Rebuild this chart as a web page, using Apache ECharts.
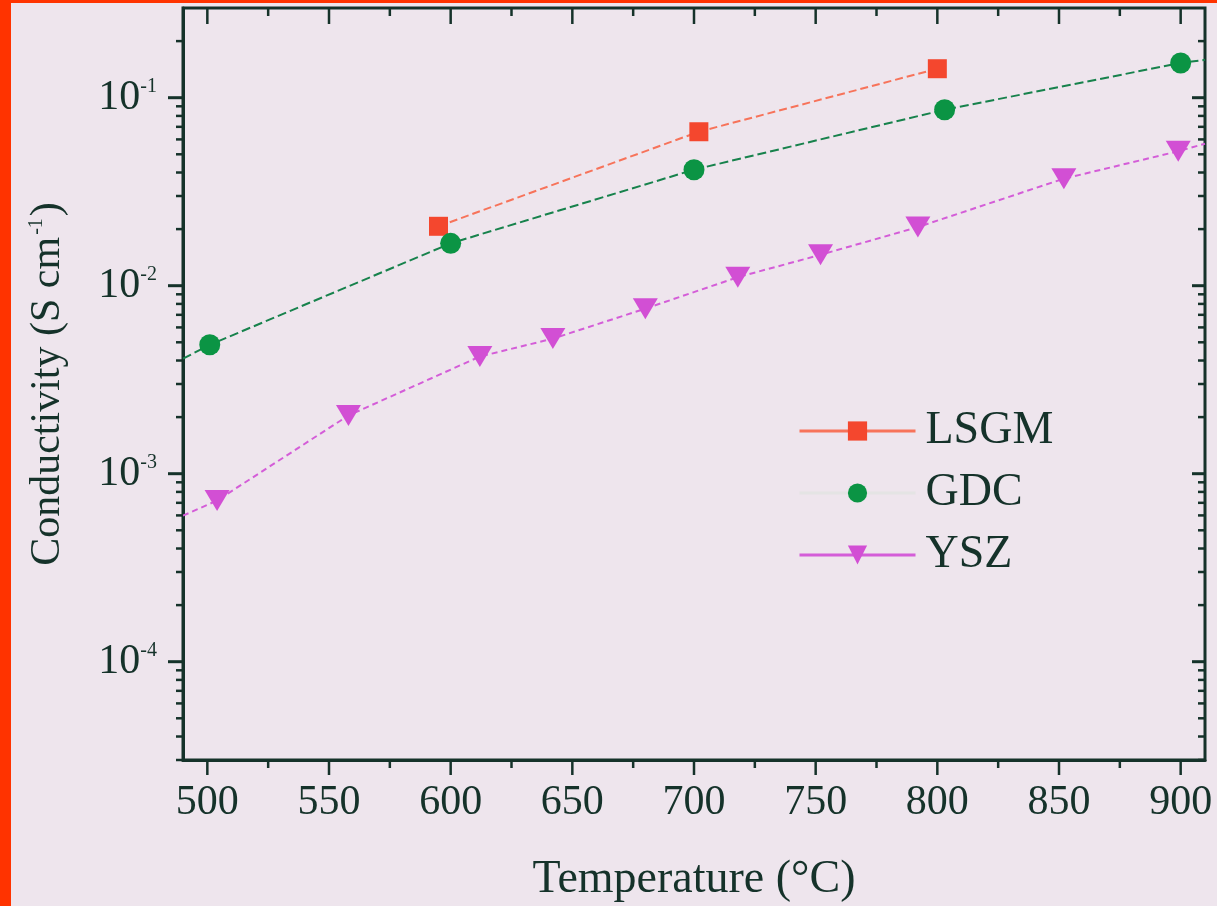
<!DOCTYPE html>
<html>
<head>
<meta charset="utf-8">
<script src="https://cdn.jsdelivr.net/npm/echarts@6/dist/echarts.min.js"></script>
<style>
  html, body { margin: 0; padding: 0; background: #eee5ed; }
  #chart { width: 1217px; height: 906px; }
</style>
</head>
<body>
<div id="chart"></div>
<script>
// data (temperature in °C, conductivity in S/cm)
var lsgmTemp = [595, 702, 800];
var lsgmCond = [0.0207, 0.0659, 0.1426];

var gdcTemp = [501, 600, 700, 803, 900];
var gdcCond = [0.00485, 0.0168, 0.0414, 0.0863, 0.153];
// where the GDC guide line meets the frame
var gdcEnds = [[490, 0.00409], [910, 0.159]];

var yszTemp = [504, 558, 612, 642, 680, 718, 752, 792, 852, 899];
var yszCond = [0.00072, 0.00204, 0.0042, 0.00523, 0.00755, 0.0111, 0.0146, 0.0205, 0.0371, 0.0519];
var yszEnds = [[490, 0.000598], [910, 0.0569]];

// axis ticks
var xTicks = [500, 550, 600, 650, 700, 750, 800, 850, 900];
var xMinor = [525, 575, 625, 675, 725, 775, 825, 875];
var yTicks = [1e-4, 1e-3, 1e-2, 1e-1];
var xMin = 490, xMax = 910, yMin = 3e-5, yMax = 0.3;

var serif = "'Liberation Serif', 'Times New Roman', serif";
var ink = '#15322a';

function pairs(xs, ys) {
    return xs.map(function (x, i) { return [x, ys[i]]; });
}
function withEnds(pts, ends) {
    var out = pts.slice();
    out.unshift({value: ends[0], symbol: 'none'});
    out.push({value: ends[1], symbol: 'none'});
    return out;
}

// log minor ticks 2..9 per decade inside the range
var yMinor = [];
for (var d = -5; d <= -1; d++) {
    for (var k = 2; k <= 9; k++) {
        var v = k * Math.pow(10, d);
        if (v > yMin && v < yMax) yMinor.push(v);
    }
}

var myChart = echarts.init(document.getElementById('chart'));

var option = {
    backgroundColor: '#eee5ed',
    animation: false,
    graphic: [
        {type: 'rect', left: 0, top: 0, shape: {width: 11, height: 906}, style: {fill: '#ff3300'}, z: 100},
        {type: 'rect', left: 0, top: 0, shape: {width: 1217, height: 3}, style: {fill: '#ff3300'}, z: 100}
    ],
    grid: {
        left: 183, right: 12, top: 8, bottom: 146,
        show: true, borderColor: ink, borderWidth: 3, backgroundColor: 'transparent',
        outerBoundsMode: 'none'
    },
    legend: {
        orient: 'vertical',
        left: 793,
        top: 403,
        itemWidth: 116,
        itemHeight: 24,
        itemGap: 16,
        textStyle: {fontFamily: serif, fontSize: 46, color: ink, padding: [0, 0, 0, 5], lineHeight: 46},
        lineStyle: {type: 'solid', width: 3},
        data: [
            {name: 'LSGM'},
            {name: 'GDC', lineStyle: {color: '#e4e4e4'}},
            {name: 'YSZ'}
        ]
    },
    xAxis: {
        type: 'value',
        min: xMin,
        max: xMax,
        splitNumber: 8,
        axisLine: {lineStyle: {color: ink, width: 3}},
        axisTick: {show: false},
        splitLine: {show: false},
        axisLabel: {
            margin: 22,
            fontFamily: serif,
            fontSize: 42,
            color: ink,
            formatter: function (v) { return xTicks.indexOf(v) >= 0 ? String(v) : ''; }
        },
        name: 'Temperature (°C)',
        nameLocation: 'middle',
        nameGap: 97,
        nameTextStyle: {fontFamily: serif, fontSize: 46, color: ink}
    },
    yAxis: {
        type: 'log',
        logBase: 10,
        min: yMin,
        max: yMax,
        axisLine: {lineStyle: {color: ink, width: 3}},
        axisTick: {show: false},
        splitLine: {show: false},
        axisLabel: {
            margin: 26,
            color: ink,
            formatter: function (v) {
                var e = Math.round(Math.log10(v));
                if (Math.abs(Math.log10(v) - e) > 1e-6) return '';
                return '{b|10}{s|' + e + '}';
            },
            rich: {
                b: {fontFamily: serif, fontSize: 42, color: ink},
                s: {fontFamily: serif, fontSize: 20, color: ink, padding: [0, 0, 22, 0]}
            }
        },
        name: '{t|Conductivity (S cm}{s|-1}{t|)}',
        nameLocation: 'middle',
        nameGap: 114,
        nameTextStyle: {
            rich: {
                t: {fontFamily: serif, fontSize: 42, color: ink},
                s: {fontFamily: serif, fontSize: 20, color: ink, padding: [0, 2, 22, 2]}
            }
        }
    },
    series: [
        {
            name: 'LSGM',
            type: 'line',
            data: pairs(lsgmTemp, lsgmCond),
            symbol: 'rect',
            symbolSize: 19,
            itemStyle: {color: '#f4472e'},
            lineStyle: {color: '#f7735a', width: 2, type: [8, 4]},
            z: 3
        },
        {
            name: 'GDC',
            type: 'line',
            data: withEnds(pairs(gdcTemp, gdcCond), gdcEnds),
            symbol: 'circle',
            symbolSize: 21,
            itemStyle: {color: '#0b9444'},
            lineStyle: {color: '#17824c', width: 2, type: [9, 4]},
            z: 3
        },
        {
            name: 'YSZ',
            type: 'line',
            data: withEnds(pairs(yszTemp, yszCond), yszEnds),
            symbol: 'triangle',
            symbolRotate: 180,
            symbolSize: [25, 21],
            itemStyle: {color: '#d24fd4'},
            lineStyle: {color: '#d45dd8', width: 2, type: [6, 4]},
            z: 3
        },
        {
            // frame ticks: outward on left/bottom, inward on top/right
            name: 'ticks',
            type: 'custom',
            silent: true,
            clip: false,
            data: [[xMin, yMin]],
            renderItem: function (params, api) {
                var kids = [];
                function seg(x1, y1, x2, y2, w) {
                    kids.push({type: 'line', shape: {x1: x1, y1: y1, x2: x2, y2: y2},
                        style: {stroke: ink, lineWidth: w}});
                }
                xTicks.forEach(function (t) {
                    var b = api.coord([t, yMin]), u = api.coord([t, yMax]);
                    seg(b[0], b[1], b[0], b[1] + 15, 2.5);
                    seg(u[0], u[1], u[0], u[1] + 16, 2.5);
                });
                xMinor.forEach(function (t) {
                    var b = api.coord([t, yMin]), u = api.coord([t, yMax]);
                    seg(b[0], b[1], b[0], b[1] + 8, 2.5);
                    seg(u[0], u[1], u[0], u[1] + 8, 2.5);
                });
                yTicks.forEach(function (t) {
                    var l = api.coord([xMin, t]), r = api.coord([xMax, t]);
                    seg(l[0], l[1], l[0] - 15, l[1], 3);
                    seg(r[0], r[1], r[0] - 13, r[1], 3);
                });
                yMinor.forEach(function (t) {
                    var l = api.coord([xMin, t]), r = api.coord([xMax, t]);
                    seg(l[0], l[1], l[0] - 7, l[1], 2.5);
                    seg(r[0], r[1], r[0] - 7, r[1], 2.5);
                });
                return {type: 'group', children: kids};
            },
            z: 5
        }
    ]
};

myChart.setOption(option);
</script>
</body>
</html>
